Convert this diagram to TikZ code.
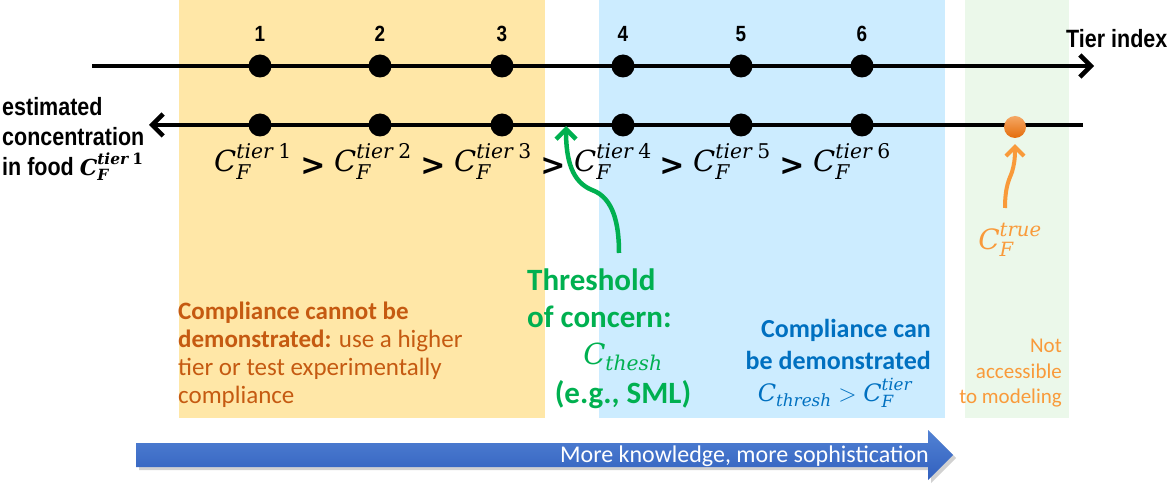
\RequirePackage{fix-cm}
\documentclass[tikz,border=0pt]{standalone}
\usepackage{amsmath}
\usepackage{fontspec}
\setmainfont{Carlito}
\newfontfamily\narrowsf[FakeStretch=0.86]{Liberation Sans}
\newfontfamily\chevfont{DejaVu Sans}
\newfontfamily\mathitf{DejaVu Serif}
\newcommand\mi[1]{\text{\mathitf\mdseries\itshape #1}}
\newcommand\mib[1]{\text{\mathitf\bfseries\itshape #1}}
\newcommand\mnum[1]{\text{\mathitf\mdseries\upshape #1}}
\newcommand\mnumb[1]{\text{\mathitf\bfseries\upshape #1}}
\usetikzlibrary{arrows.meta}
\definecolor{bgyellow}{HTML}{FFE7A7}
\definecolor{bgblue}{HTML}{CCECFF}
\definecolor{bggreen}{HTML}{EBF8EA}
\definecolor{thgreen}{HTML}{00B050}
\definecolor{brownor}{HTML}{C55A11}
\definecolor{txblue}{HTML}{0070C0}
\definecolor{lightor}{HTML}{F99A3A}
\definecolor{dottop}{HTML}{F5A865}
\definecolor{dotbot}{HTML}{E46C0A}
\definecolor{arrtop}{HTML}{5282D4}
\definecolor{arrbot}{HTML}{3160BE}
\begin{document}
\begin{tikzpicture}[x=1pt,y=-1pt,
  dot/.style={circle, fill=black, inner sep=0pt, minimum size=23pt},
  axis/.style={line width=4.5pt, black},
  num/.style={font=\narrowsf\bfseries\fontsize{22}{24}\selectfont, anchor=base, inner sep=0pt},
  ctier/.style={font=\fontsize{29}{34}\selectfont, anchor=base west, inner sep=0pt},
  chev/.style={font=\chevfont\bfseries\fontsize{30}{32}\selectfont, anchor=base, inner sep=0pt},
  plain/.style={inner sep=0pt}
]
\useasboundingbox (0,0) rectangle (1168,486);
% background bands
\fill[bgyellow] (179,0) rectangle (545,418);
\fill[bgblue] (599,0) rectangle (945,418);
\fill[bggreen] (965,0) rectangle (1069,418);

% axes
\coordinate (ta) at (92,66);
\coordinate (tb) at (1094,66);
\draw[axis, -{Straight Barb[length=11pt,width=22pt]}] (ta) -- (tb);
\coordinate (ba) at (1083,125);
\coordinate (bb) at (149,125);
\draw[axis, -{Straight Barb[length=11pt,width=22pt]}] (ba) -- (bb);

% dots and numbers
\foreach \i/\x in {1/260,2/380,3/502,4/623,5/741,6/862}{
  \node[dot] (t\i) at (\x,66) {};
  \node[dot] (b\i) at (\x,125) {};
  \node[num] (n\i) at (\x,42) {\i};
}
\node[plain, anchor=base west, font=\narrowsf\bfseries\fontsize{25}{28}\selectfont] (tierlbl) at (1066,48) {Tier index};

% left axis label
\node[plain, anchor=north west, align=left, font=\narrowsf\bfseries\fontsize{25}{30}\selectfont] (estlbl) at (2,97)
  {estimated\\concentration\\in food {\fontsize{22}{30}\selectfont$\mib{C}_{\mib{F}}^{\mib{tier}\;\mnumb{1}}$}};

% tier labels
\node[ctier] (c1) at (214,172) {$\mi{C}_{\mi{F}}^{\mi{tier}\;\mnum{1}}$};
\node[ctier] (c2) at (334,172) {$\mi{C}_{\mi{F}}^{\mi{tier}\;\mnum{2}}$};
\node[ctier] (c3) at (454,172) {$\mi{C}_{\mi{F}}^{\mi{tier}\;\mnum{3}}$};
\node[ctier] (c4) at (574,172) {$\mi{C}_{\mi{F}}^{\mi{tier}\;\mnum{4}}$};
\node[ctier] (c5) at (693,172) {$\mi{C}_{\mi{F}}^{\mi{tier}\;\mnum{5}}$};
\node[ctier] (c6) at (813,172) {$\mi{C}_{\mi{F}}^{\mi{tier}\;\mnum{6}}$};
\node[chev] (g1) at (313,176) {>};
\node[chev] (g2) at (433,176) {>};
\node[chev] (g3) at (553,176) {>};
\node[chev] (g4) at (672,176) {>};
\node[chev] (g5) at (792,176) {>};

% true value
\node[circle, inner sep=0pt, minimum size=22pt, top color=dottop, bottom color=dotbot] (truedot) at (1015,127) {};
\coordinate (os) at (1005,208);
\draw[lightor, line width=4pt, -{Straight Barb[length=9pt,width=18pt]}]
  (os) .. controls (1005,185) and (1010,178) .. (1012,172) .. controls (1014,165) and (1015,160) .. ([yshift=-6pt]truedot.south);
\node[plain, text=lightor, font=\fontsize{28}{32}\selectfont] (truelbl) at (1010,240) {$\mi{C}_{\mi{F}}^{\mi{true}}$};

% threshold arrow
\coordinate (gs) at (619,253);
\coordinate (gt) at (566,126);
\draw[thgreen, line width=4.5pt, -{Straight Barb[length=10pt,width=20pt]}]
  (gs) .. controls (619,225) and (614,198) .. (592,190) .. controls (572,182) and (566,160) .. (gt);

% threshold text
\node[plain, anchor=north west, align=left, text=thgreen, font=\bfseries\fontsize{31}{37}\selectfont] (thr) at (527,269)
  {Threshold\\of concern:};
\node[plain, anchor=base, text=thgreen, font=\fontsize{29}{32}\selectfont] (cth) at (623,365) {$\mi{C}_{\mi{thesh}}$};
\node[plain, anchor=base, text=thgreen, font=\bfseries\fontsize{31}{34}\selectfont] (eg) at (623,403) {(e.g., SML)};

% cannot be demonstrated
\node[plain, anchor=north west, align=left, text=brownor, font=\fontsize{25}{28}\selectfont] (cannot) at (178,302)
  {\textbf{Compliance cannot be}\\\textbf{demonstrated:} use a higher\\tier or test experimentally\\compliance};

% can be demonstrated
\node[plain, anchor=north east, align=right, text=txblue, font=\bfseries\fontsize{26}{32}\selectfont] (can) at (931,319)
  {Compliance can\\be demonstrated};
\node[plain, anchor=base, text=txblue, font=\fontsize{24}{30}\selectfont] (canmath) at (835,402) {$\mi{C}_{\mi{thresh}} > \mi{C}_{\mi{F}}^{\mi{tier}}$};

% not accessible
\node[plain, anchor=north east, align=right, text=lightor, font=\fontsize{21}{25.5}\selectfont] (notacc) at (1062,339)
  {Not\\accessible\\to modeling};

% knowledge arrow
\fill[black, opacity=0.18] (139,446) -- (931,446) -- (931,433) -- (956,458) -- (931,483) -- (931,470) -- (139,470) -- cycle;
\shade[top color=arrtop, bottom color=arrbot] (136,443) -- (928,443) -- (928,430) -- (953,455) -- (928,480) -- (928,467) -- (136,467) -- cycle;
\node[plain, anchor=base east, text=white, font=\fontsize{24}{26}\selectfont] (know) at (929,462) {More knowledge, more sophistication};
\end{tikzpicture}
\end{document}
